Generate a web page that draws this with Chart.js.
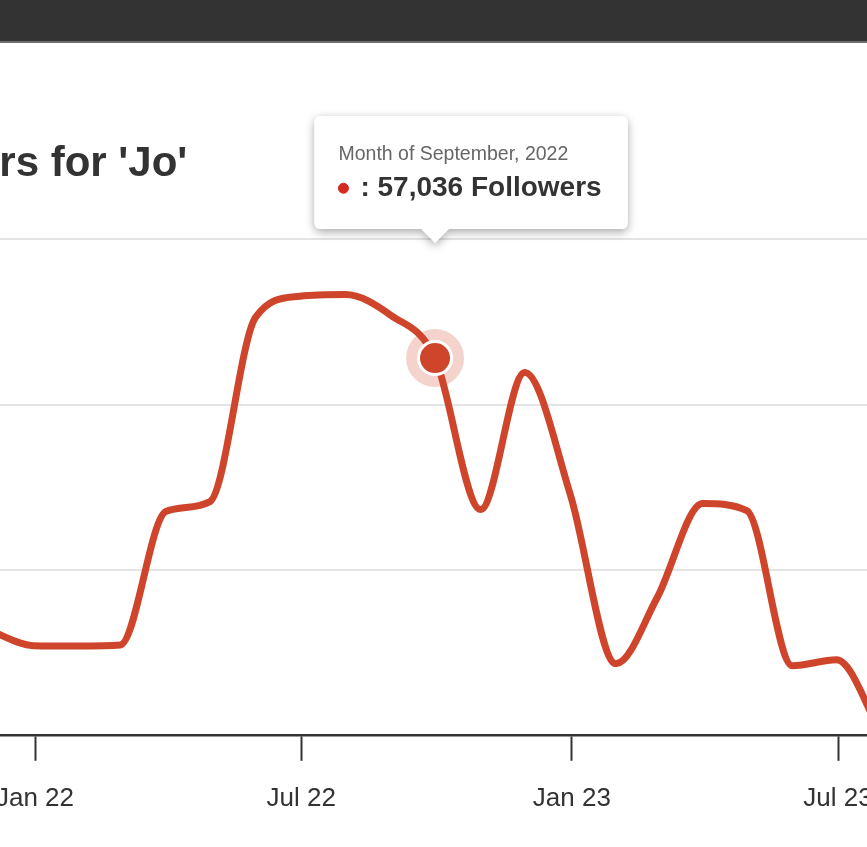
<!DOCTYPE html>
<html>
<head>
<meta charset="utf-8">
<title>Followers for 'Jo'</title>
<script src="https://cdn.jsdelivr.net/npm/chart.js@4"></script>
<style>
    html, body { margin: 0; padding: 0; background: #fff; }
    body { width: 867px; height: 847px; overflow: hidden; position: relative; }
    #topbar { position: absolute; left: 0; top: 0; width: 867px; height: 41px; background: #333; border-bottom: 2px solid #6e6e6e; }
    #wrap { position: absolute; left: 0; top: 43px; width: 867px; height: 804px; overflow: hidden; }
    #chartBox { position: absolute; top: 0; }
</style>
</head>
<body>
<div id="topbar"></div>
<div id="wrap"><div id="chartBox"><canvas id="followersChart"></canvas></div></div>
<script>
// data, one value per month (plotted at the end of the month)
const months = ['2021-11', '2021-12', '2022-01', '2022-02', '2022-03', '2022-04', '2022-05',
    '2022-06', '2022-07', '2022-08', '2022-09', '2022-10', '2022-11', '2022-12',
    '2023-01', '2023-02', '2023-03', '2023-04', '2023-05', '2023-06', '2023-07'];
const followers = [15900, 13500, 13450, 13600, 33800, 35300, 63200,
    66400, 66650, 63500, 57036, 34100, 54850, 36350,
    10750, 20750, 35000, 33950, 10450, 11350, 0];

const tickMonths = ['2022-01', '2022-07', '2023-01', '2023-07'];
const tickLabels = ['Jan 22', 'Jul 22', 'Jan 23', 'Jul 23'];
const yTicks = [0, 25000, 50000, 75000];
const highlightMonth = '2022-09';
const monthNames = ['January', 'February', 'March', 'April', 'May', 'June', 'July',
    'August', 'September', 'October', 'November', 'December'];

const titleText = "Followers for 'Jo'";
const hiddenTitlePart = 'Followe';   // the screenshot is cropped on the left

const fontFamily = "'Liberation Sans', Arial, Helvetica, sans-serif";
const lineColor = '#cf452b';

const epoch = Date.UTC(2022, 0, 1);
function dayOf(ym, endOfMonth) {
    const [y, m] = ym.split('-').map(Number);
    const t = endOfMonth ? Date.UTC(y, m, 0) : Date.UTC(y, m - 1, 1);
    return (t - epoch) / 86400000;
}

document.addEventListener('DOMContentLoaded', function () {
    const canvas = document.getElementById('followersChart');
    const box = document.getElementById('chartBox');

    // how much of the chart sits left of the visible crop
    const m = document.createElement('canvas').getContext('2d');
    m.font = 'bold 42px ' + fontFamily;
    const cropLeft = Math.round(m.measureText(hiddenTitlePart).width) + 1;

    const W = 1100, H = 804;
    canvas.width = W; canvas.height = H;
    canvas.style.width = W + 'px'; canvas.style.height = H + 'px';
    box.style.left = (-cropLeft) + 'px';

    const tickDays = tickMonths.map(t => dayOf(t, false));
    const pxPerDay = 803 / tickDays[tickDays.length - 1];

    const points = months.map((mo, i) => ({ x: dayOf(mo, true), y: followers[i] }));
    const hi = months.indexOf(highlightMonth);

    const tooltipShadow = {
        id: 'tooltipShadow',
        beforeTooltipDraw(chart, args) {
            const t = args.tooltip;
            t.x = t.caretX - t.width * 0.385;
            const ctx = chart.ctx;
            const bottom = t.y + t.height;
            ctx.save();
            ctx.shadowColor = 'rgba(0,0,0,0.35)';
            ctx.shadowBlur = 10;
            ctx.shadowOffsetY = 3;
            ctx.fillStyle = '#fff';
            ctx.beginPath();
            ctx.roundRect(t.x, t.y, t.width, t.height, 6);
            ctx.moveTo(t.caretX - 14, bottom - 1);
            ctx.lineTo(t.caretX, bottom + 14);
            ctx.lineTo(t.caretX + 14, bottom - 1);
            ctx.fill();
            ctx.restore();
        }
    };

    const chart = new Chart(canvas, {
        type: 'line',
        data: {
            datasets: [{
                label: 'Followers',
                data: points,
                borderColor: lineColor,
                borderWidth: 7,
                cubicInterpolationMode: 'monotone',
                pointRadius: (c) => c.dataIndex === hi ? 16.5 : 0,
                pointHoverRadius: (c) => c.dataIndex === hi ? 16.5 : 0,
                pointBackgroundColor: lineColor,
                pointHoverBackgroundColor: lineColor,
                pointBorderColor: '#fff',
                pointHoverBorderColor: '#fff',
                pointBorderWidth: 3,
                pointHoverBorderWidth: 3,
                order: 1
            }, {
                label: 'halo',
                data: [points[hi]],
                showLine: false,
                pointRadius: 29,
                pointHoverRadius: 29,
                pointBackgroundColor: 'rgba(207,69,43,0.24)',
                pointBorderWidth: 0,
                order: 2
            }]
        },
        options: {
            responsive: false,
            animation: false,
            events: [],
            layout: { padding: { left: 0, right: 0, top: 0, bottom: 11 } },
            scales: {
                x: {
                    type: 'linear',
                    min: -150,
                    max: 600,
                    afterBuildTicks: (axis) => { axis.ticks = tickDays.map(v => ({ value: v })); },
                    ticks: {
                        autoSkip: false,
                        maxRotation: 0,
                        padding: 22,
                        color: '#333',
                        font: { family: fontFamily, size: 26 },
                        callback: (v) => tickLabels[tickDays.indexOf(v)]
                    },
                    grid: {
                        drawOnChartArea: false,
                        drawTicks: true,
                        tickLength: 26,
                        tickWidth: 2,
                        tickColor: '#333',
                        color: '#333'
                    },
                    border: { display: true, color: '#333', width: 2.5 }
                },
                y: {
                    min: yTicks[0],
                    max: yTicks[yTicks.length - 1],
                    afterBuildTicks: (axis) => { axis.ticks = yTicks.map(v => ({ value: v })); },
                    ticks: { display: false },
                    grid: {
                        drawTicks: false,
                        lineWidth: 2,
                        color: (c) => c.tick && c.tick.value === 0 ? 'rgba(0,0,0,0)' : '#e4e4e4'
                    },
                    border: { display: false }
                }
            },
            plugins: {
                legend: { display: false },
                title: {
                    display: true,
                    text: titleText,
                    align: 'start',
                    color: '#333',
                    font: { family: fontFamily, size: 42, weight: 'bold' },
                    padding: { top: 96, bottom: 50 }
                },
                tooltip: {
                    filter: (item) => item.datasetIndex === 0,
                    backgroundColor: '#fff',
                    borderWidth: 0,
                    titleColor: '#666',
                    titleFont: { family: fontFamily, size: 19.5, weight: 'normal' },
                    titleMarginBottom: 5,
                    bodyColor: '#333',
                    bodyFont: { family: fontFamily, size: 28, weight: 'bold' },
                    padding: { top: 27, bottom: 24, left: 24, right: 26 },
                    cornerRadius: 6,
                    caretSize: 14,
                    caretPadding: 115,
                    xAlign: 'center',
                    yAlign: 'bottom',
                    displayColors: true,
                    usePointStyle: true,
                    boxWidth: 10,
                    boxHeight: 10,
                    boxPadding: 10,
                    callbacks: {
                        title: (items) => {
                            const [y, mo] = months[items[0].dataIndex].split('-').map(Number);
                            return 'Month of ' + monthNames[mo - 1] + ', ' + y;
                        },
                        label: (item) => ': ' + item.raw.y.toLocaleString('en-US') + ' Followers',
                        labelColor: () => ({ borderColor: '#d42a22', backgroundColor: '#d42a22' }),
                        labelPointStyle: () => ({ pointStyle: 'circle', rotation: 0 })
                    }
                }
            }
        },
        plugins: [tooltipShadow]
    });

    // fit the x range to the laid-out chart area so Jan 22 lands 35px into the crop
    for (let k = 0; k < 4; k++) {
        const a = chart.chartArea;
        const min = -(35 + cropLeft - a.left) / pxPerDay;
        chart.options.scales.x.min = min;
        chart.options.scales.x.max = min + (a.right - a.left) / pxPerDay;
        chart.update('none');
    }

    const p = chart.getDatasetMeta(0).data[hi];
    chart.tooltip.setActiveElements([{ datasetIndex: 0, index: hi }], { x: p.x, y: p.y });
    chart.update('none');
});
</script>
</body>
</html>
